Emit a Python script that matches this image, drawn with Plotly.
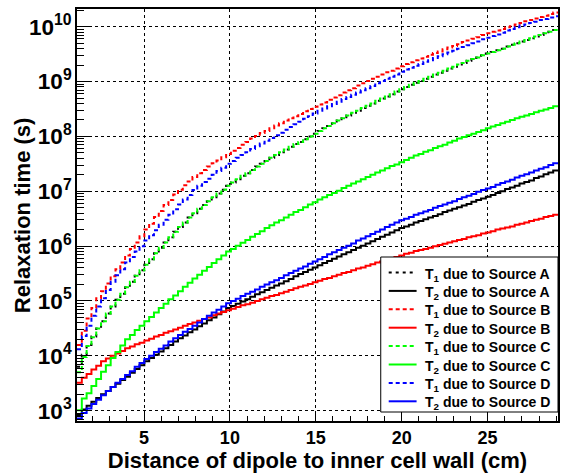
import numpy as np
import plotly.graph_objects as go

# Histogram binning (x: distance of dipole to inner cell wall, cm)
BIN_LOW = 1.1
BIN_HIGH = 29.1

# Relaxation times (s), one value per bin (100 bins)
T1_A = [6.31e3, 1.05e4, 1.58e4, 2.24e4, 3.16e4, 4.27e4, 5.89e4, 7.94e4, 1.05e5, 1.35e5,
        1.78e5, 2.24e5, 2.88e5, 3.63e5, 4.57e5, 5.75e5, 7.41e5, 9.33e5, 1.17e6, 1.45e6,
        1.82e6, 2.24e6, 2.69e6, 3.31e6, 3.98e6, 4.79e6, 5.62e6, 6.61e6, 7.76e6, 9.12e6,
        1.07e7, 1.26e7, 1.45e7, 1.66e7, 1.91e7, 2.14e7, 2.45e7, 2.82e7, 3.16e7, 3.55e7,
        4.07e7, 4.57e7, 5.13e7, 5.75e7, 6.46e7, 7.24e7, 7.94e7, 8.91e7, 1.00e8, 1.12e8,
        1.26e8, 1.41e8, 1.55e8, 1.74e8, 1.95e8, 2.14e8, 2.40e8, 2.69e8, 2.95e8, 3.31e8,
        3.63e8, 3.98e8, 4.47e8, 4.90e8, 5.37e8, 5.89e8, 6.61e8, 7.24e8, 7.94e8, 8.71e8,
        9.55e8, 1.02e9, 1.12e9, 1.23e9, 1.35e9, 1.45e9, 1.58e9, 1.74e9, 1.86e9, 2.04e9,
        2.19e9, 2.40e9, 2.57e9, 2.75e9, 3.02e9, 3.24e9, 3.47e9, 3.72e9, 3.98e9, 4.37e9,
        4.68e9, 5.01e9, 5.37e9, 5.75e9, 6.17e9, 6.61e9, 7.08e9, 7.59e9, 8.13e9, 8.71e9]

T2_A = [8.32e2, 1.05e3, 1.23e3, 1.45e3, 1.70e3, 2.00e3, 2.29e3, 2.69e3, 3.09e3, 3.63e3,
        4.17e3, 4.90e3, 5.75e3, 6.76e3, 7.94e3, 9.12e3, 1.05e4, 1.20e4, 1.38e4, 1.58e4,
        1.82e4, 2.09e4, 2.34e4, 2.69e4, 3.02e4, 3.47e4, 3.89e4, 4.47e4, 5.01e4, 5.75e4,
        6.46e4, 7.41e4, 8.13e4, 8.91e4, 9.77e4, 1.07e5, 1.20e5, 1.32e5, 1.45e5, 1.58e5,
        1.74e5, 1.91e5, 2.09e5, 2.29e5, 2.51e5, 2.82e5, 3.09e5, 3.39e5, 3.72e5, 4.07e5,
        4.47e5, 4.90e5, 5.37e5, 5.89e5, 6.46e5, 7.08e5, 7.76e5, 8.51e5, 9.33e5, 1.02e6,
        1.12e6, 1.23e6, 1.35e6, 1.48e6, 1.62e6, 1.78e6, 1.95e6, 2.14e6, 2.29e6, 2.45e6,
        2.69e6, 2.88e6, 3.09e6, 3.31e6, 3.55e6, 3.80e6, 4.17e6, 4.47e6, 4.79e6, 5.13e6,
        5.50e6, 5.89e6, 6.46e6, 6.92e6, 7.41e6, 7.94e6, 8.51e6, 9.33e6, 1.00e7, 1.10e7,
        1.17e7, 1.26e7, 1.38e7, 1.48e7, 1.58e7, 1.74e7, 1.86e7, 2.04e7, 2.19e7, 2.40e7]

T1_B = [1.58e4, 2.88e4, 4.79e4, 7.41e4, 1.12e5, 1.51e5, 2.09e5, 2.82e5, 3.80e5, 5.01e5,
        6.76e5, 8.91e5, 1.17e6, 1.51e6, 2.00e6, 2.57e6, 3.39e6, 4.37e6, 5.62e6, 6.92e6,
        8.71e6, 1.07e7, 1.29e7, 1.51e7, 1.82e7, 2.14e7, 2.45e7, 2.82e7, 3.24e7, 3.63e7,
        4.17e7, 4.79e7, 5.50e7, 6.17e7, 7.08e7, 7.94e7, 9.12e7, 1.02e8, 1.15e8, 1.26e8,
        1.41e8, 1.58e8, 1.74e8, 1.95e8, 2.14e8, 2.34e8, 2.57e8, 2.88e8, 3.16e8, 3.47e8,
        3.80e8, 4.17e8, 4.68e8, 5.13e8, 5.62e8, 6.31e8, 6.92e8, 7.59e8, 8.51e8, 9.33e8,
        1.02e9, 1.12e9, 1.23e9, 1.35e9, 1.48e9, 1.58e9, 1.74e9, 1.91e9, 2.09e9, 2.24e9,
        2.45e9, 2.63e9, 2.82e9, 3.09e9, 3.31e9, 3.55e9, 3.89e9, 4.17e9, 4.47e9, 4.79e9,
        5.25e9, 5.62e9, 6.03e9, 6.46e9, 7.08e9, 7.59e9, 8.13e9, 8.51e9, 9.12e9, 9.77e9,
        1.02e10, 1.10e10, 1.17e10, 1.26e10, 1.32e10, 1.41e10, 1.51e10, 1.58e10, 1.70e10, 1.82e10]

T2_B = [3.24e3, 3.98e3, 4.68e3, 5.62e3, 6.61e3, 7.94e3, 8.91e3, 1.00e4, 1.10e4, 1.23e4,
        1.38e4, 1.48e4, 1.62e4, 1.74e4, 1.91e4, 2.04e4, 2.24e4, 2.40e4, 2.63e4, 2.82e4,
        3.02e4, 3.24e4, 3.55e4, 3.80e4, 4.07e4, 4.37e4, 4.68e4, 5.01e4, 5.50e4, 5.89e4,
        6.31e4, 6.76e4, 7.24e4, 7.76e4, 8.32e4, 8.71e4, 9.33e4, 1.00e5, 1.07e5, 1.15e5,
        1.23e5, 1.29e5, 1.38e5, 1.48e5, 1.58e5, 1.70e5, 1.82e5, 1.91e5, 2.04e5, 2.19e5,
        2.34e5, 2.51e5, 2.63e5, 2.82e5, 3.02e5, 3.24e5, 3.39e5, 3.63e5, 3.89e5, 4.07e5,
        4.37e5, 4.68e5, 5.01e5, 5.25e5, 5.62e5, 6.03e5, 6.31e5, 6.76e5, 7.24e5, 7.59e5,
        8.13e5, 8.51e5, 8.91e5, 9.33e5, 1.00e6, 1.05e6, 1.10e6, 1.17e6, 1.23e6, 1.29e6,
        1.35e6, 1.45e6, 1.51e6, 1.58e6, 1.70e6, 1.78e6, 1.86e6, 2.00e6, 2.09e6, 2.19e6,
        2.29e6, 2.45e6, 2.57e6, 2.69e6, 2.88e6, 3.02e6, 3.16e6, 3.39e6, 3.55e6, 3.72e6]

T1_C = [5.01e3, 9.55e3, 1.51e4, 2.19e4, 3.16e4, 4.27e4, 5.89e4, 7.94e4, 1.05e5, 1.35e5,
        1.78e5, 2.24e5, 2.88e5, 3.63e5, 4.57e5, 5.75e5, 7.41e5, 9.33e5, 1.17e6, 1.45e6,
        1.82e6, 2.24e6, 2.69e6, 3.31e6, 3.98e6, 4.79e6, 5.62e6, 6.61e6, 7.76e6, 9.12e6,
        1.07e7, 1.26e7, 1.45e7, 1.66e7, 1.91e7, 2.14e7, 2.45e7, 2.82e7, 3.16e7, 3.55e7,
        4.07e7, 4.57e7, 5.13e7, 5.75e7, 6.46e7, 7.24e7, 7.94e7, 8.91e7, 1.00e8, 1.12e8,
        1.26e8, 1.41e8, 1.55e8, 1.74e8, 1.95e8, 2.14e8, 2.40e8, 2.69e8, 2.95e8, 3.31e8,
        3.63e8, 3.98e8, 4.47e8, 4.90e8, 5.37e8, 5.89e8, 6.61e8, 7.24e8, 7.94e8, 8.71e8,
        9.55e8, 1.02e9, 1.12e9, 1.23e9, 1.35e9, 1.45e9, 1.58e9, 1.74e9, 1.86e9, 2.04e9,
        2.19e9, 2.40e9, 2.57e9, 2.75e9, 3.02e9, 3.24e9, 3.47e9, 3.72e9, 3.98e9, 4.37e9,
        4.68e9, 5.01e9, 5.37e9, 5.75e9, 6.17e9, 6.61e9, 7.08e9, 7.59e9, 8.13e9, 8.71e9]

T2_C = [1.02e3, 1.66e3, 2.09e3, 2.82e3, 3.80e3, 5.13e3, 6.76e3, 9.12e3, 1.17e4, 1.55e4,
        2.00e4, 2.40e4, 2.95e4, 3.55e4, 4.27e4, 5.13e4, 6.17e4, 7.41e4, 8.91e4, 1.07e5,
        1.26e5, 1.51e5, 1.82e5, 2.14e5, 2.57e5, 3.02e5, 3.55e5, 4.17e5, 4.90e5, 5.75e5,
        6.76e5, 7.94e5, 8.91e5, 1.02e6, 1.15e6, 1.29e6, 1.48e6, 1.66e6, 1.86e6, 2.14e6,
        2.40e6, 2.69e6, 2.95e6, 3.31e6, 3.72e6, 4.17e6, 4.57e6, 5.13e6, 5.75e6, 6.31e6,
        7.08e6, 7.76e6, 8.51e6, 9.33e6, 1.02e7, 1.15e7, 1.26e7, 1.38e7, 1.51e7, 1.66e7,
        1.82e7, 2.00e7, 2.19e7, 2.40e7, 2.63e7, 2.88e7, 3.09e7, 3.39e7, 3.72e7, 4.07e7,
        4.47e7, 4.79e7, 5.25e7, 5.62e7, 6.17e7, 6.61e7, 7.08e7, 7.76e7, 8.32e7, 9.12e7,
        9.77e7, 1.05e8, 1.12e8, 1.20e8, 1.29e8, 1.41e8, 1.51e8, 1.62e8, 1.74e8, 1.86e8,
        2.00e8, 2.14e8, 2.29e8, 2.40e8, 2.57e8, 2.75e8, 2.95e8, 3.09e8, 3.31e8, 3.55e8]

T1_D = [1.32e4, 2.29e4, 3.55e4, 5.37e4, 7.94e4, 1.12e5, 1.58e5, 2.24e5, 2.95e5, 3.80e5,
        5.01e5, 6.31e5, 7.94e5, 1.00e6, 1.26e6, 1.58e6, 1.95e6, 2.45e6, 3.02e6, 3.72e6,
        4.68e6, 5.75e6, 7.08e6, 8.51e6, 1.05e7, 1.26e7, 1.48e7, 1.70e7, 2.00e7, 2.34e7,
        2.69e7, 3.16e7, 3.55e7, 4.07e7, 4.57e7, 5.13e7, 5.89e7, 6.61e7, 7.41e7, 8.32e7,
        9.33e7, 1.05e8, 1.17e8, 1.32e8, 1.48e8, 1.66e8, 1.86e8, 2.09e8, 2.34e8, 2.63e8,
        2.95e8, 3.24e8, 3.55e8, 3.89e8, 4.27e8, 4.79e8, 5.25e8, 5.75e8, 6.31e8, 6.92e8,
        7.59e8, 8.32e8, 9.33e8, 1.02e9, 1.12e9, 1.23e9, 1.35e9, 1.51e9, 1.66e9, 1.78e9,
        1.95e9, 2.09e9, 2.29e9, 2.45e9, 2.69e9, 2.88e9, 3.16e9, 3.39e9, 3.63e9, 3.98e9,
        4.27e9, 4.57e9, 5.01e9, 5.37e9, 5.89e9, 6.31e9, 6.76e9, 7.24e9, 7.76e9, 8.51e9,
        9.12e9, 9.77e9, 1.05e10, 1.10e10, 1.17e10, 1.23e10, 1.32e10, 1.38e10, 1.48e10, 1.55e10]

T2_D = [7.24e2, 9.12e2, 1.10e3, 1.32e3, 1.58e3, 1.91e3, 2.29e3, 2.69e3, 3.24e3, 3.80e3,
        4.47e3, 5.25e3, 6.31e3, 7.41e3, 8.71e3, 1.00e4, 1.17e4, 1.35e4, 1.55e4, 1.82e4,
        2.09e4, 2.40e4, 2.75e4, 3.09e4, 3.55e4, 4.07e4, 4.68e4, 5.37e4, 6.17e4, 6.92e4,
        7.94e4, 9.12e4, 1.00e5, 1.10e5, 1.23e5, 1.35e5, 1.48e5, 1.62e5, 1.82e5, 2.00e5,
        2.19e5, 2.40e5, 2.63e5, 2.95e5, 3.24e5, 3.55e5, 3.89e5, 4.27e5, 4.79e5, 5.25e5,
        5.75e5, 6.31e5, 7.08e5, 7.76e5, 8.51e5, 9.33e5, 1.02e6, 1.12e6, 1.26e6, 1.38e6,
        1.51e6, 1.66e6, 1.82e6, 2.00e6, 2.24e6, 2.45e6, 2.69e6, 2.95e6, 3.16e6, 3.39e6,
        3.72e6, 3.98e6, 4.27e6, 4.57e6, 5.01e6, 5.37e6, 5.75e6, 6.17e6, 6.61e6, 7.24e6,
        7.76e6, 8.32e6, 8.91e6, 9.77e6, 1.05e7, 1.12e7, 1.20e7, 1.32e7, 1.41e7, 1.51e7,
        1.62e7, 1.78e7, 1.91e7, 2.04e7, 2.19e7, 2.40e7, 2.57e7, 2.75e7, 3.02e7, 3.24e7]

LEGEND_LABELS = ["T<sub>1</sub> due to Source A", "T<sub>2</sub> due to Source A",
                 "T<sub>1</sub> due to Source B", "T<sub>2</sub> due to Source B",
                 "T<sub>1</sub> due to Source C", "T<sub>2</sub> due to Source C",
                 "T<sub>1</sub> due to Source D", "T<sub>2</sub> due to Source D"]

SERIES = [
    (LEGEND_LABELS[0], T1_A, "#000000", "3px,4px"),
    (LEGEND_LABELS[1], T2_A, "#000000", "solid"),
    (LEGEND_LABELS[2], T1_B, "#ff0000", "4px,3px"),
    (LEGEND_LABELS[3], T2_B, "#ff0000", "solid"),
    (LEGEND_LABELS[4], T1_C, "#00ff00", "4px,3px"),
    (LEGEND_LABELS[5], T2_C, "#00ff00", "solid"),
    (LEGEND_LABELS[6], T1_D, "#0000ff", "4px,3px"),
    (LEGEND_LABELS[7], T2_D, "#0000ff", "solid"),
]

X_TITLE = "Distance of dipole to inner cell wall (cm)"
Y_TITLE = "Relaxation time (s)"

FONT = "Liberation Sans, Arial, Helvetica, sans-serif"
W, H = 561, 475
ML, MR, MT, MB = 77, 1, 9, 54
PW, PH = W - ML - MR, H - MT - MB


def px_x(px):
    return (px - ML) / PW


def px_y(py):
    return (H - MB - py) / PH


fig = go.Figure()
for name, vals, color, dash in SERIES:
    edges = np.linspace(BIN_LOW, BIN_HIGH, len(vals) + 1)
    yv = list(vals) + [vals[-1]]
    fig.add_trace(go.Scatter(
        x=edges, y=yv, mode="lines", name=name, showlegend=False,
        line=dict(color=color, width=2, dash=dash, shape="hv"),
    ))

# Legend box (drawn like the ROOT TLegend)
shapes = [dict(type="rect", xref="paper", yref="paper", layer="above",
               x0=px_x(382), x1=px_x(560), y0=px_y(412), y1=px_y(257),
               line=dict(color="black", width=1), fillcolor="white")]
annotations = []
row0, row_step = 272.5, 18.4
for k, (name, vals, color, dash) in enumerate(SERIES):
    yc = row0 + k * row_step
    shapes.append(dict(type="line", xref="paper", yref="paper", layer="above",
                       x0=px_x(390), x1=px_x(418), y0=px_y(yc), y1=px_y(yc),
                       line=dict(color=color, width=2, dash=dash)))
    annotations.append(dict(xref="paper", yref="paper", x=px_x(424), y=px_y(yc + 2),
                            xanchor="left", yanchor="middle", showarrow=False,
                            text=name,
                            font=dict(family=FONT, size=14, color="black", weight="bold")))

# y-axis title placed like the ROOT one
annotations.append(dict(xref="paper", yref="paper", x=px_x(22), y=px_y(215),
                        xanchor="center", yanchor="middle", showarrow=False,
                        textangle=-90, text=Y_TITLE,
                        font=dict(family=FONT, size=22, color="black", weight="bold")))

fig.update_layout(
    width=W, height=H,
    margin=dict(l=ML, r=MR, t=MT, b=MB),
    paper_bgcolor="white", plot_bgcolor="white",
    font=dict(family=FONT, color="black"),
    showlegend=False,
    shapes=shapes, annotations=annotations,
)

fig.update_xaxes(
    range=[BIN_LOW, BIN_HIGH],
    showline=True, linecolor="black", linewidth=1.5, mirror=True,
    ticks="inside", ticklen=9, tickwidth=1, tickcolor="black",
    tick0=0, dtick=5,
    minor=dict(ticks="inside", ticklen=5, tickwidth=1, tickcolor="black", dtick=1, showgrid=False),
    showgrid=True, gridcolor="black", gridwidth=1, griddash="dot",
    zeroline=False,
    tickfont=dict(family=FONT, size=18, color="black", weight="bold"),
    title=dict(text=X_TITLE,
               font=dict(family=FONT, size=22, color="black", weight="bold"), standoff=3),
)

fig.update_yaxes(
    type="log",
    range=[2.812, 10.323],
    showline=True, linecolor="black", linewidth=1.5, mirror=True,
    ticks="inside", ticklen=14, tickwidth=1, tickcolor="black",
    dtick=1, exponentformat="power",
    minor=dict(ticks="inside", ticklen=7, tickwidth=1, tickcolor="black", dtick="D1", showgrid=False),
    showgrid=True, gridcolor="black", gridwidth=1, griddash="dot",
    zeroline=False,
    tickfont=dict(family=FONT, size=18, color="black", weight="bold"),
)

fig.write_html("out.html")
